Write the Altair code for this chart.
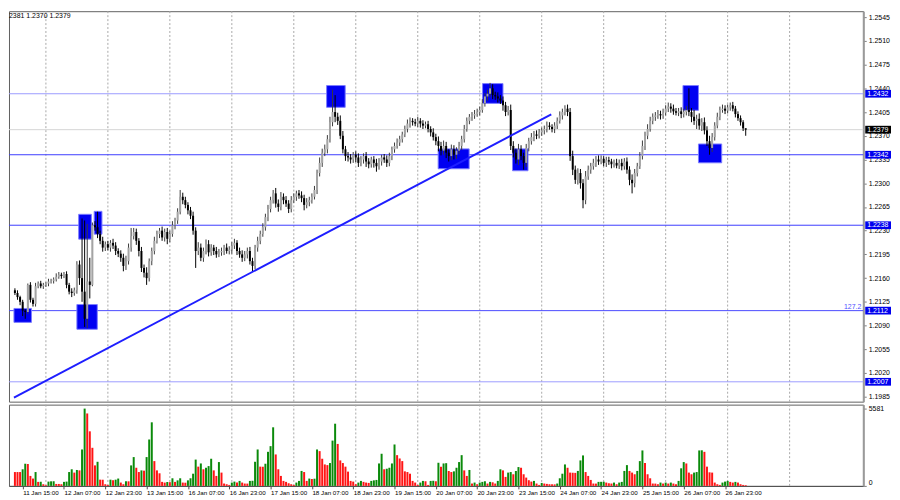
import altair as alt
import pandas as pd

# ---------------- data (prices in pips above 1.2000) ----------------
FIRST_OPEN = 142
CLOSE = [
    138, 132, 125, 112, 110, 150, 128, 122, 148, 152,
    148, 150, 152, 155, 156, 158, 162, 165, 163, 166,
    150, 140, 138, 142, 180, 160, 140, 100, 155, 150,
    238, 235, 225, 215, 205, 210, 205, 212, 208, 200,
    196, 190, 178, 185, 205, 222, 228, 215, 200, 175,
    168, 160, 185, 200, 215, 225, 230, 220, 228, 218,
    225, 238, 245, 258, 280, 275, 268, 260, 252, 230,
    200, 205, 190, 200, 210, 198, 205, 200, 195, 198,
    200, 205, 200, 202, 208, 212, 200, 195, 190, 195,
    200, 185, 178, 205, 215, 225, 235, 250, 262, 275,
    285, 270, 265, 280, 275, 270, 262, 275, 280, 285,
    282, 278, 268, 272, 275, 280, 290, 315, 330, 345,
    350, 365, 390, 405, 398, 392, 370, 350, 340, 338,
    335, 342, 338, 330, 335, 340, 332, 328, 335, 330,
    325, 332, 338, 335, 330, 340, 350, 355, 360, 365,
    372, 380, 388, 392, 390, 388, 392, 388, 385, 387,
    380, 375, 368, 362, 355, 348, 355, 345, 340, 350,
    342, 348, 355, 365, 380, 392, 398, 400, 402, 405,
    408, 418, 428, 432, 440, 430, 428, 425, 422, 415,
    405, 408, 355, 345, 335, 350, 340, 330, 352, 362,
    368, 372, 370, 375, 378, 380, 385, 383, 380, 385,
    392, 400, 405, 410, 405, 340, 320, 305, 315, 300,
    275, 310, 320, 325, 330, 335, 332, 336, 330, 334,
    332, 328, 330, 326, 330, 325, 332, 320, 305, 300,
    315, 325, 340, 355, 370, 380, 392, 398, 400, 402,
    400, 404, 410, 413, 410, 406, 404, 406, 402, 405,
    408, 405, 398, 392, 395, 385, 390, 378, 362, 352,
    368, 385, 398, 408, 410, 407, 412, 415, 410, 402,
    396, 390, 381, 379,
]
# upper / lower wick lengths (pips)
UP = [
    3, 4, 2, 3, 2, 2, 4, 3, 5, 3,
    4, 3, 2, 4, 3, 3, 5, 4, 3, 3,
    4, 3, 5, 4, 5, 6, 88, 105, 85, 35,
    4, 6, 23, 5, 6, 4, 5, 4, 6, 5,
    4, 5, 6, 8, 6, 12, 6, 5, 4, 6,
    5, 8, 4, 5, 6, 5, 4, 6, 5, 6,
    5, 6, 4, 5, 10, 6, 5, 4, 5, 6,
    5, 8, 6, 5, 7, 6, 5, 4, 6, 5,
    5, 4, 6, 5, 5, 6, 4, 5, 6, 5,
    5, 6, 5, 4, 6, 5, 6, 5, 6, 5,
    5, 8, 6, 7, 5, 6, 5, 6, 5, 4,
    5, 6, 5, 6, 5, 5, 6, 5, 8, 6,
    7, 6, 8, 33, 25, 6, 8, 7, 5, 6,
    5, 4, 5, 6, 5, 4, 6, 5, 4, 5,
    6, 5, 4, 5, 6, 5, 4, 5, 6, 5,
    4, 5, 6, 5, 4, 5, 6, 4, 5, 4,
    5, 4, 6, 5, 7, 6, 8, 6, 5, 7,
    6, 5, 6, 5, 6, 5, 4, 5, 6, 5,
    5, 6, 5, 6, 8, 6, 5, 6, 5, 6,
    5, 6, 8, 7, 6, 8, 6, 5, 6, 5,
    6, 5, 6, 5, 4, 5, 6, 5, 4, 5,
    5, 6, 5, 5, 6, 6, 8, 6, 7, 6,
    6, 8, 6, 5, 6, 5, 6, 5, 4, 5,
    5, 4, 5, 6, 5, 6, 5, 6, 5, 8,
    6, 5, 6, 8, 6, 7, 6, 5, 5, 6,
    5, 6, 5, 6, 5, 6, 5, 5, 6, 5,
    6, 32, 6, 10, 6, 8, 6, 7, 6, 8,
    6, 5, 6, 5, 6, 5, 4, 4, 5, 4,
    4, 4, 3, 0,
]
DN = [
    3, 4, 5, 8, 10, 3, 4, 4, 4, 3,
    3, 4, 3, 4, 3, 4, 3, 3, 4, 3,
    5, 4, 6, 4, 5, 10, 15, 12, 14, 20,
    2, 5, 6, 5, 6, 5, 4, 6, 5, 6,
    5, 6, 8, 6, 5, 6, 5, 6, 8, 6,
    7, 10, 5, 6, 5, 4, 6, 5, 6, 8,
    5, 4, 6, 5, 4, 6, 5, 6, 5, 6,
    25, 6, 5, 6, 5, 6, 5, 6, 5, 4,
    5, 6, 4, 5, 6, 5, 6, 5, 6, 5,
    6, 5, 8, 5, 6, 5, 4, 5, 6, 5,
    5, 6, 7, 5, 6, 5, 6, 5, 4, 6,
    5, 6, 8, 5, 6, 5, 4, 6, 5, 6,
    5, 6, 5, 6, 8, 6, 5, 6, 7, 6,
    6, 5, 7, 6, 5, 6, 8, 6, 5, 7,
    8, 5, 6, 5, 6, 5, 6, 5, 4, 5,
    5, 4, 5, 6, 5, 4, 5, 6, 5, 4,
    5, 6, 5, 6, 8, 7, 6, 8, 8, 6,
    7, 6, 5, 6, 5, 4, 5, 6, 5, 4,
    5, 4, 5, 6, 5, 6, 5, 6, 5, 8,
    6, 5, 6, 7, 6, 8, 6, 10, 6, 5,
    5, 6, 5, 4, 5, 6, 5, 4, 5, 6,
    5, 4, 6, 5, 6, 7, 8, 6, 7, 8,
    12, 6, 5, 6, 5, 6, 5, 4, 5, 6,
    5, 6, 5, 4, 5, 6, 5, 6, 8, 15,
    6, 5, 4, 5, 6, 5, 4, 5, 6, 5,
    6, 5, 4, 5, 6, 5, 4, 5, 6, 5,
    5, 6, 8, 6, 12, 6, 8, 6, 7, 10,
    6, 5, 4, 5, 4, 5, 4, 5, 4, 5,
    4, 5, 4, 9,
]
VOLUME = [
    1000, 1000, 1000, 1200, 1600, 1580, 720, 530, 1000, 290,
    300, 120, 50, 310, 330, 335, 140, 140, 120, 290,
    310, 1000, 1200, 960, 1150, 1120, 2630, 5581, 5230, 3940,
    2750, 1480, 1740, 450, 445, 120, 70, 450, 410, 450,
    530, 240, 120, 335, 330, 1480, 2080, 1310, 1000, 1120,
    1100, 2080, 3350, 4590, 1790, 1120, 910, 290, 240, 280,
    270, 550, 290, 400, 550, 240, 230, 400, 550, 880,
    1900, 1390, 1620, 1200, 1310, 1430, 1960, 1120, 720, 1720,
    960, 170, 120, 70, 240, 310, 240, 360, 240, 170,
    165, 360, 370, 1740, 2630, 1390, 1380, 1600, 2460, 2870,
    4230, 2270, 1200, 720, 360, 290, 190, 120, 70, 240,
    360, 1080, 1000, 360, 530, 500, 520, 2630, 2510, 1960,
    1550, 1500, 1650, 3270, 4490, 3030, 1840, 1650, 1390, 1030,
    360, 310, 120, 240, 360, 290, 240, 215, 360, 400,
    430, 1620, 2320, 1200, 1240, 1310, 1620, 2990, 2220, 1980,
    1790, 1050, 1000, 880, 360, 240, 70, 240, 360, 335,
    70, 360, 370, 335, 1670, 1390, 1620, 1640, 1075, 1000,
    1050, 1310, 1720, 2220, 1120, 720, 1150, 170, 240, 120,
    240, 290, 335, 170, 290, 260, 170, 360, 1200, 1120,
    650, 960, 1000, 840, 1080, 1360, 1310, 840, 600, 410,
    310, 360, 170, 70, 215, 170, 145, 120, 115, 110,
    170, 550, 880, 1550, 1310, 960, 950, 940, 1080, 1840,
    2200, 1000, 720, 430, 170, 165, 290, 295, 300, 240,
    190, 170, 240, 120, 240, 290, 1080, 1500, 1080, 960,
    840, 1080, 1790, 2560, 1650, 840, 550, 170, 165, 120,
    240, 170, 240, 170, 240, 170, 120, 360, 1270, 1720,
    1620, 960, 840, 960, 1000, 2560, 2570, 2460, 1390, 980,
    960, 240, 120, 70, 240, 310, 360, 290, 240, 290,
    240, 120, 70, 50,
]
assert len(CLOSE) == len(UP) == len(DN) == len(VOLUME) == 284

LEVELS = [1.2432, 1.2342, 1.2238, 1.2112, 1.2007]
LEVEL_LINE_COLORS = ["#9c9cff", "#3c3cff", "#3c3cff", "#4a4aff", "#9c9cff"]
CURRENT_PRICE = 1.2379
FIB_TEXT = "127.2"
FIB_LEVEL = 1.2112
HEADER = "2381 1.2370 1.2379"

PRICE_TICKS = [1.1985, 1.2020, 1.2055, 1.2090, 1.2125, 1.2160, 1.2195, 1.2230,
               1.2265, 1.2300, 1.2335, 1.2370, 1.2405, 1.2440, 1.2475, 1.2510, 1.2545]
VOL_TICKS = [0, 5581]
TIME_BARS = [3, 19, 35, 51, 67, 83, 99, 115, 131, 147, 163, 179, 195, 211, 227, 243, 259, 275]
TIME_TEXT = ["11 Jan 15:00", "12 Jan 07:00", "12 Jan 23:00", "13 Jan 15:00", "16 Jan 07:00",
             "16 Jan 23:00", "17 Jan 15:00", "18 Jan 07:00", "18 Jan 23:00", "19 Jan 15:00",
             "20 Jan 07:00", "20 Jan 23:00", "23 Jan 15:00", "24 Jan 07:00", "24 Jan 23:00",
             "25 Jan 15:00", "26 Jan 07:00", "26 Jan 23:00"]
GRID_BARS = [12, 36, 60, 84, 108, 132, 156, 180, 204, 228, 252, 276, 300]

BOX_I0 = [-0.375, 24.0, 24.7, 30.7, 120.7, 163.9, 181.1, 192.7, 258.7, 264.7]
BOX_I1 = [6.4, 31.9, 29.6, 33.7, 127.9, 175.9, 189.0, 198.7, 264.7, 273.7]
BOX_LO = [1.20947, 1.20845, 1.22175, 1.22248, 1.24120, 1.23213, 1.24178, 1.23184, 1.24076, 1.23301]
BOX_HI = [1.21152, 1.21210, 1.22541, 1.22585, 1.24441, 1.23506, 1.24470, 1.23506, 1.24441, 1.23579]

TREND_I = [-0.375, 207.7]
TREND_P = [1.19836, 1.24017]

# ---------------- layout ----------------
W = 862
H1 = 394
H2 = 82
FONT = "Liberation Sans"
XS = alt.Scale(domain=[-0.375, 326.6], nice=False, zero=False)
YS = alt.Scale(domain=[1.19777, 1.25538], nice=False, zero=False)
VS = alt.Scale(domain=[0, 5867], nice=False, zero=True)

# ---------------- frames ----------------
opens = [FIRST_OPEN] + CLOSE[:-1]
rows = []
for i, (o, c, u, d) in enumerate(zip(opens, CLOSE, UP, DN)):
    bull = c >= o
    rows.append(dict(i=i, o=1.2 + o / 1e4, c=1.2 + c / 1e4,
                     h=1.2 + (max(o, c) + u) / 1e4, l=1.2 + (min(o, c) - d) / 1e4,
                     body="#a4a4a4" if bull else "#000000",
                     wick="#3a3a3a" if bull else "#000000"))
candles = pd.DataFrame(rows)

vcol = ["#ff1414"] + ["#0b8a0b" if VOLUME[k] > VOLUME[k - 1] else "#ff1414" for k in range(1, len(VOLUME))]
vol_df = pd.DataFrame({"i": list(range(len(VOLUME))), "v": VOLUME, "col": vcol})

lvl_df = pd.DataFrame({"p": LEVELS, "col": LEVEL_LINE_COLORS})
lab_df = pd.DataFrame({"p": LEVELS + [CURRENT_PRICE],
                       "t": [f"{v:.4f}" for v in LEVELS] + [f"{CURRENT_PRICE:.4f}"],
                       "bg": ["#0000ee"] * len(LEVELS) + ["#000000"]})
grid_df = pd.DataFrame({"g": GRID_BARS})
box_df = pd.DataFrame({"i0": BOX_I0, "i1": BOX_I1, "lo": BOX_LO, "hi": BOX_HI})
trend_df = pd.DataFrame({"i": TREND_I, "p": TREND_P})

YAX = alt.Axis(orient="right", values=PRICE_TICKS, format=".4f", title=None, tickSize=3,
               tickColor="#808080", domainColor="#9a9a9a", domainWidth=2, labelPadding=2,
               labelFontSize=7, labelFont=FONT, labelColor="#000000", grid=False)
XNONE = alt.X("i:Q", scale=XS, axis=None)

grid = alt.Chart(grid_df).mark_rule(color="#a8a8a8", strokeDash=[2, 2], strokeWidth=1).encode(
    x=alt.X("g:Q", scale=XS, axis=None))
current = alt.Chart(pd.DataFrame({"p": [CURRENT_PRICE]})).mark_rule(color="#d4d4d4", strokeWidth=1).encode(
    y=alt.Y("p:Q", scale=YS, axis=YAX))
levels = alt.Chart(lvl_df).mark_rule(strokeWidth=1).encode(
    y=alt.Y("p:Q", scale=YS, axis=YAX), color=alt.Color("col:N", scale=None))
boxes = alt.Chart(box_df).mark_rect(color="#0000f2", stroke="#7c7cff", strokeWidth=1, opacity=1).encode(
    x=alt.X("i0:Q", scale=XS, axis=None), x2="i1:Q",
    y=alt.Y("lo:Q", scale=YS, axis=YAX), y2="hi:Q")
wicks = alt.Chart(candles).mark_rule(strokeWidth=1).encode(
    x=XNONE, y=alt.Y("l:Q", scale=YS, axis=YAX), y2="h:Q", color=alt.Color("wick:N", scale=None))
bodies = alt.Chart(candles).mark_bar(size=2).encode(
    x=XNONE, y=alt.Y("o:Q", scale=YS, axis=YAX), y2="c:Q", color=alt.Color("body:N", scale=None))
trend = alt.Chart(trend_df).mark_line(color="#1e1eff", strokeWidth=2).encode(
    x=alt.X("i:Q", scale=XS, axis=None), y=alt.Y("p:Q", scale=YS, axis=YAX))
lab_bg = alt.Chart(lab_df).mark_point(shape="M-1,-0.3H1V0.3H-1Z", filled=True, size=676,
                                      opacity=1, strokeWidth=0).encode(
    x=alt.value(W + 15), y=alt.Y("p:Q", scale=YS, axis=YAX), color=alt.Color("bg:N", scale=None))
lab_txt = alt.Chart(lab_df).mark_text(align="left", baseline="middle", fontSize=7, font=FONT,
                                      color="#ffffff").encode(
    x=alt.value(W + 4), y=alt.Y("p:Q", scale=YS, axis=YAX), text="t:N")
fib = alt.Chart(pd.DataFrame({"p": [FIB_LEVEL], "t": [FIB_TEXT]})).mark_text(
    align="right", baseline="bottom", fontSize=7, font=FONT, color="#5050ff", dy=-1).encode(
    x=alt.value(W - 2), y=alt.Y("p:Q", scale=YS, axis=YAX), text="t:N")
header = alt.Chart(pd.DataFrame({"t": [HEADER]})).mark_text(
    align="left", baseline="top", fontSize=7, font=FONT, color="#000000").encode(
    x=alt.value(0), y=alt.value(1), text="t:N")

main = alt.layer(grid, current, levels, boxes, wicks, bodies, trend, lab_bg, lab_txt, fib, header).properties(
    width=W, height=H1)

label_expr = ("[" + ",".join(f"'{t}'" for t in TIME_TEXT) + "][indexof(["
              + ",".join(str(b) for b in TIME_BARS) + "], datum.value)]")
XAX = alt.Axis(values=TIME_BARS, labelExpr=label_expr, labelAlign="left", labelPadding=1, tickSize=3,
               title=None, grid=False, labelOverlap=False, labelFlush=False, labelBound=False,
               labelFontSize=6.3, labelFont=FONT, labelColor="#000000",
               domainColor="#505050", tickColor="#505050")
VAX = alt.Axis(orient="right", values=VOL_TICKS, format="d", title=None, tickSize=3, labelPadding=2,
               labelFontSize=7, labelFont=FONT, labelColor="#000000", tickColor="#808080",
               domainColor="#9a9a9a", domainWidth=2, grid=False,
               labelBaseline={"condition": {"test": "datum.value == 0", "value": "bottom"}, "value": "middle"})

vgrid = alt.Chart(grid_df).mark_rule(color="#a8a8a8", strokeDash=[2, 2], strokeWidth=1).encode(
    x=alt.X("g:Q", scale=XS, axis=XAX))
vbars = alt.Chart(vol_df).mark_bar(size=2).encode(
    x=alt.X("i:Q", scale=XS, axis=XAX), y=alt.Y("v:Q", scale=VS, axis=VAX),
    color=alt.Color("col:N", scale=None))
vol = alt.layer(vgrid, vbars).properties(width=W, height=H2)

chart = alt.vconcat(main, vol, spacing=1, padding=0, background="#ffffff").configure_view(
    stroke="#606060", strokeWidth=1)

chart.save("out.html", embed_options={"renderer": "svg", "actions": False})
